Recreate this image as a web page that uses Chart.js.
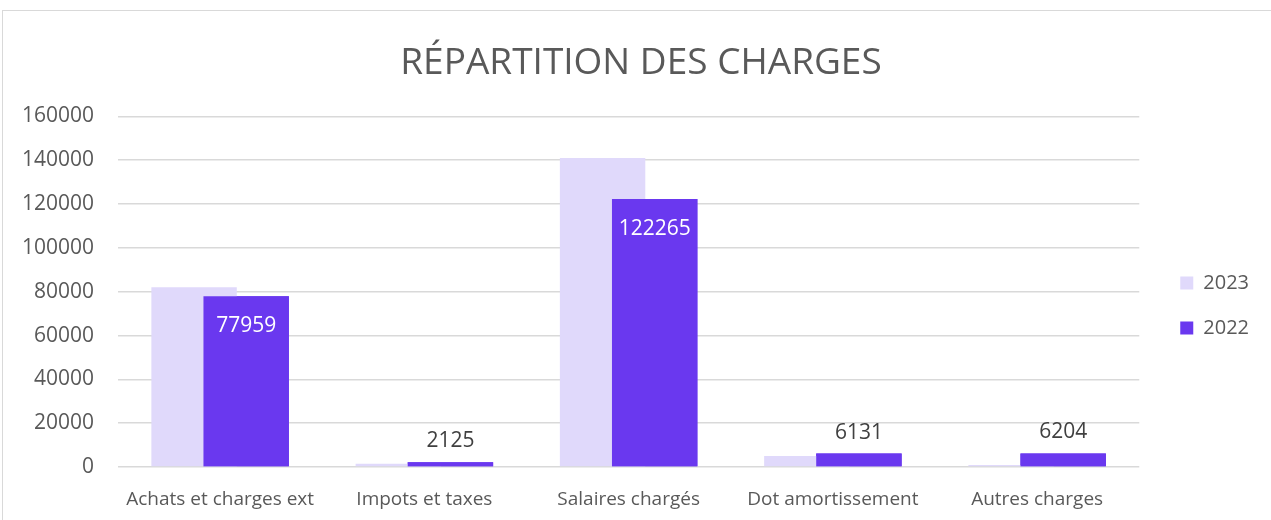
<!DOCTYPE html>
<html lang="fr">
<head>
<meta charset="utf-8">
<title>Répartition des charges</title>
<script src="https://cdn.jsdelivr.net/npm/chart.js@4"></script>
<style>
    html, body { margin: 0; padding: 0; background: #fff; overflow: hidden; }
    #cadre {
        position: absolute; left: 2px; top: 10px;
        width: 1400px; height: 700px;
        border: 1.5px solid #d9d9d9;
    }
    #chartCharges { position: absolute; left: 0; top: 0; }
</style>
</head>
<body>
<div id="cadre"></div>
<canvas id="chartCharges" width="1271" height="520"></canvas>
<script>
// ── Données ──────────────────────────────────────────────
const categories = ['Achats et charges ext', 'Impots et taxes', 'Salaires chargés', 'Dot amortissement', 'Autres charges'];
const charges2023 = [82000, 1500, 141000, 5000, 900];
const charges2022 = [77959, 2125, 122265, 6131, 6204];
const yTicks = [0, 20000, 40000, 60000, 80000, 100000, 120000, 140000, 160000];

const GRIS = '#595959';
Chart.defaults.font.family = '"Open Sans", sans-serif';
Chart.defaults.color = GRIS;

// légende décalée vers la droite / le bas, comme dans Excel
const decalageLegende = {
    id: 'decalageLegende',
    beforeLayout(chart) {
        const lg = chart.legend;
        if (lg && !lg._elargi) {
            const fit = lg.fit.bind(lg);
            lg.fit = function () { fit(); this.width += 28; };
            lg._elargi = true;
        }
    },
    afterLayout(chart) {
        const lg = chart.legend;
        if (!lg) return;
        lg.left += 16;
        lg.right += 16;
        lg.top += 51;
        lg.bottom += 51;
    },
};

// 2022 dessiné par-dessus 2023 + étiquettes de valeur
const barres2022 = {
    id: 'barres2022',
    afterDatasetsDraw(chart) {
        const meta = chart.getDatasetMeta(1);
        meta.controller.draw();
        const ctx = chart.ctx;
        ctx.save();
        ctx.font = '21px "Open Sans", sans-serif';
        ctx.textAlign = 'center';
        ctx.textBaseline = 'middle';
        meta.data.forEach((bar, i) => {
            const dedans = bar.base - bar.y > 40;
            ctx.fillStyle = dedans ? '#ffffff' : '#404040';
            ctx.fillText(String(charges2022[i]), bar.x, dedans ? bar.y + 30 : bar.y - 21);
        });
        ctx.restore();
    },
};

new Chart(document.getElementById('chartCharges').getContext('2d'), {
    type: 'bar',
    data: {
        labels: categories,
        datasets: [
            {
                label: '2023',
                data: charges2023,
                backgroundColor: '#e0d9fb',
                categoryPercentage: 0.51,
                barPercentage: 1.64,
            },
            {
                label: '2022',
                data: charges2022,
                backgroundColor: '#6a38ef',
                categoryPercentage: 0.51,
                barPercentage: 1.64,
            },
        ],
    },
    options: {
        responsive: false,
        animation: false,
        layout: { padding: { left: 11, right: 0, top: 0, bottom: 11 } },
        plugins: {
            title: {
                display: true,
                text: 'RÉPARTITION DES CHARGES',
                color: GRIS,
                font: { size: 37, weight: 'normal' },
                padding: { top: 41, bottom: 31 },
            },
            legend: {
                position: 'right',
                labels: {
                    boxWidth: 13,
                    boxHeight: 13,
                    padding: 25,
                    color: GRIS,
                    font: { size: 20 },
                },
            },
            tooltip: { enabled: false },
        },
        scales: {
            x: {
                afterFit: s => { s.height = 42; },
                grid: { display: false },
                border: { display: false },
                ticks: { padding: 13, font: { size: 19 }, color: GRIS, maxRotation: 0 },
            },
            y: {
                min: 0,
                max: 160000,
                afterBuildTicks: s => { s.ticks = yTicks.map(v => ({ value: v })); },
                afterFit: s => { s.width = 107; },
                grid: { color: '#d9d9d9', lineWidth: 1.5, drawTicks: false },
                border: { display: false },
                ticks: { padding: 24, font: { size: 21 }, color: GRIS, callback: v => String(v) },
            },
        },
    },
    plugins: [decalageLegende, barres2022],
});
</script>
</body>
</html>
